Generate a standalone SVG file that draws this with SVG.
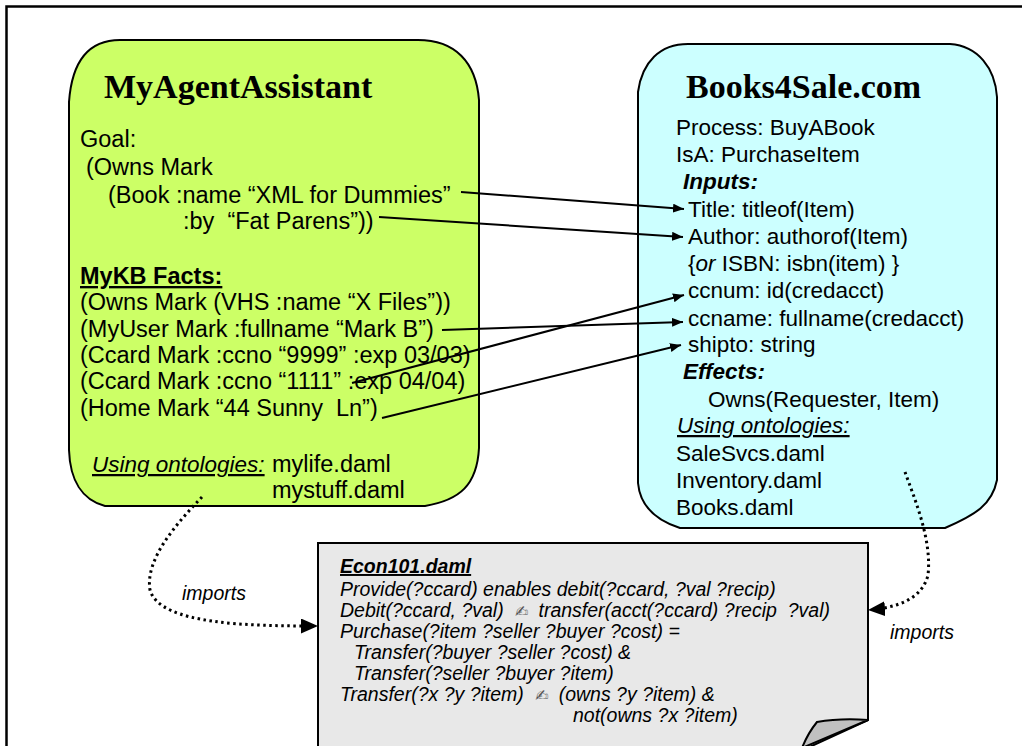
<svg xmlns="http://www.w3.org/2000/svg" width="1022" height="746" viewBox="0 0 1022 746">
<style>
.t{font-family:"Liberation Sans",Arial,sans-serif;font-size:22.5px;fill:#000;white-space:pre}
.L{font-size:23.5px}
.h{font-family:"Liberation Serif","Times New Roman",serif;font-weight:bold;font-size:34px;fill:#000}
.n{font-family:"Liberation Sans",Arial,sans-serif;font-size:19.5px;font-style:italic;fill:#000;white-space:pre}
.u{text-decoration:underline}
.b{font-weight:bold}
.i{font-style:italic}
.hand{font-family:"DejaVu Sans",sans-serif;font-style:normal;font-size:16px;fill:#555}
.box{stroke:#000;stroke-width:2}
.ln{fill:none;stroke:#000;stroke-width:2}
.dot{fill:none;stroke:#000;stroke-width:3;stroke-dasharray:2.5 3.5}
</style>
<defs>
<marker id="ah" markerUnits="userSpaceOnUse" markerWidth="11" markerHeight="9" refX="11" refY="4.5" orient="auto">
<path d="M0,0 L11,4.5 L0,9 z" fill="#000"/>
</marker>
<marker id="ahb" markerUnits="userSpaceOnUse" markerWidth="17" markerHeight="15" refX="17" refY="7.5" orient="auto">
<path d="M0,0 L17,7.5 L0,15 z" fill="#000"/>
</marker>
</defs>
<rect width="1022" height="746" fill="#fff"/>
<path d="M6.5 750 V6.5 H1030" fill="none" stroke="#000" stroke-width="2.5"/>

<g id="agent">
<path class="box" fill="#ccff66" d="M69 102 C72 60 90 40 120 40 H418 C455 40 476 62 479 100 V448 C477 485 460 500 425 506 H105 C82 500 70 480 69 450 Z"/>
<text class="h" x="104" y="98">MyAgentAssistant</text>
<text class="t L" x="80" y="147">Goal:</text>
<text class="t L" x="86" y="175">(Owns Mark</text>
<text class="t L" x="108" y="203">(Book :name “XML for Dummies”</text>
<text class="t L" x="183" y="229">:by  “Fat Parens”))</text>
<text class="t L b u" x="80" y="284">MyKB Facts:</text>
<text class="t L" x="80" y="310">(Owns Mark (VHS :name “X Files”))</text>
<text class="t L" x="80" y="337">(MyUser Mark :fullname “Mark B”)</text>
<text class="t L" x="80" y="363">(Ccard Mark :ccno “9999” :exp 03/03)</text>
<text class="t L" x="80" y="389">(Ccard Mark :ccno “1111” :exp 04/04)</text>
<text class="t L" x="80" y="416">(Home Mark “44 Sunny  Ln”)</text>
<text class="t i u" x="92" y="472">Using ontologies:</text>
<text class="t L" x="272" y="472">mylife.daml</text>
<text class="t L" x="272" y="498">mystuff.daml</text>
</g>

<g id="books">
<path class="box" fill="#ccffff" d="M638 92 C642 62 660 44 688 44 H950 C978 46 995 68 997 97 V480 C992 505 975 515 945 528 H680 C655 520 640 505 638 483 Z"/>
<text class="h" x="686" y="98">Books4Sale.com</text>
<text class="t" x="676" y="135">Process: BuyABook</text>
<text class="t" x="676" y="162">IsA: PurchaseItem</text>
<text class="t b i" x="683" y="189">Inputs:</text>
<text class="t" x="688" y="217">Title: titleof(Item)</text>
<text class="t" x="688" y="244">Author: authorof(Item)</text>
<text class="t" x="688" y="271">{<tspan class="i">or</tspan> ISBN: isbn(item) }</text>
<text class="t" x="688" y="298">ccnum: id(credacct)</text>
<text class="t" x="688" y="326">ccname: fullname(credacct)</text>
<text class="t" x="688" y="352">shipto: string</text>
<text class="t b i" x="683" y="379">Effects:</text>
<text class="t" x="708" y="407">Owns(Requester, Item)</text>
<text class="t i u" x="677" y="433">Using ontologies:</text>
<text class="t" x="676" y="461">SaleSvcs.daml</text>
<text class="t" x="676" y="488">Inventory.daml</text>
<text class="t" x="676" y="515">Books.daml</text>
</g>

<g id="econ">
<path class="box" fill="#e8e8e8" d="M318 750 V543 H868 V720 L803 750 Z"/>
<path class="box" fill="#c0c0c0" stroke-width="1.5" d="M817 722 Q840 718 868 720 L802 748 Q808 733 817 722 Z"/>
<text class="n b u" x="340" y="573">Econ101.daml</text>
<text class="n" x="340" y="596">Provide(?ccard) enables debit(?ccard, ?val ?recip)</text>
<text class="n" x="340" y="617">Debit(?ccard, ?val) <tspan class="hand" dx="6">✍</tspan><tspan dx="10">transfer(acct(?ccard) ?recip  ?val)</tspan></text>
<text class="n" x="340" y="638">Purchase(?item ?seller ?buyer ?cost) =</text>
<text class="n" x="354" y="659">Transfer(?buyer ?seller ?cost) &amp;</text>
<text class="n" x="354" y="680">Transfer(?seller ?buyer ?item)</text>
<text class="n" x="340" y="701">Transfer(?x ?y ?item) <tspan class="hand" dx="6">✍</tspan><tspan dx="10">(owns ?y ?item) &amp;</tspan></text>
<text class="n" x="573" y="722">not(owns ?x ?item)</text>
</g>

<g id="connectors">
<line class="ln" x1="461" y1="192" x2="684" y2="209" marker-end="url(#ah)"/>
<line class="ln" x1="379" y1="217" x2="683" y2="237" marker-end="url(#ah)"/>
<line class="ln" x1="442" y1="330" x2="683" y2="322" marker-end="url(#ah)"/>
<line class="ln" x1="352" y1="383" x2="684" y2="295" marker-end="url(#ah)"/>
<line class="ln" x1="382" y1="418" x2="681" y2="345" marker-end="url(#ah)"/>
<path class="dot" d="M202 497 C175 525 145 560 150 590 C160 625 250 626 318 626" marker-end="url(#ahb)"/>
<path class="dot" d="M905 472 C915 500 932 540 928 575 C922 600 895 608 868 610" marker-end="url(#ahb)"/>
<text class="n" x="182" y="600" font-size="19">imports</text>
<text class="n" x="890" y="639" font-size="19">imports</text>
</g>
</svg>
